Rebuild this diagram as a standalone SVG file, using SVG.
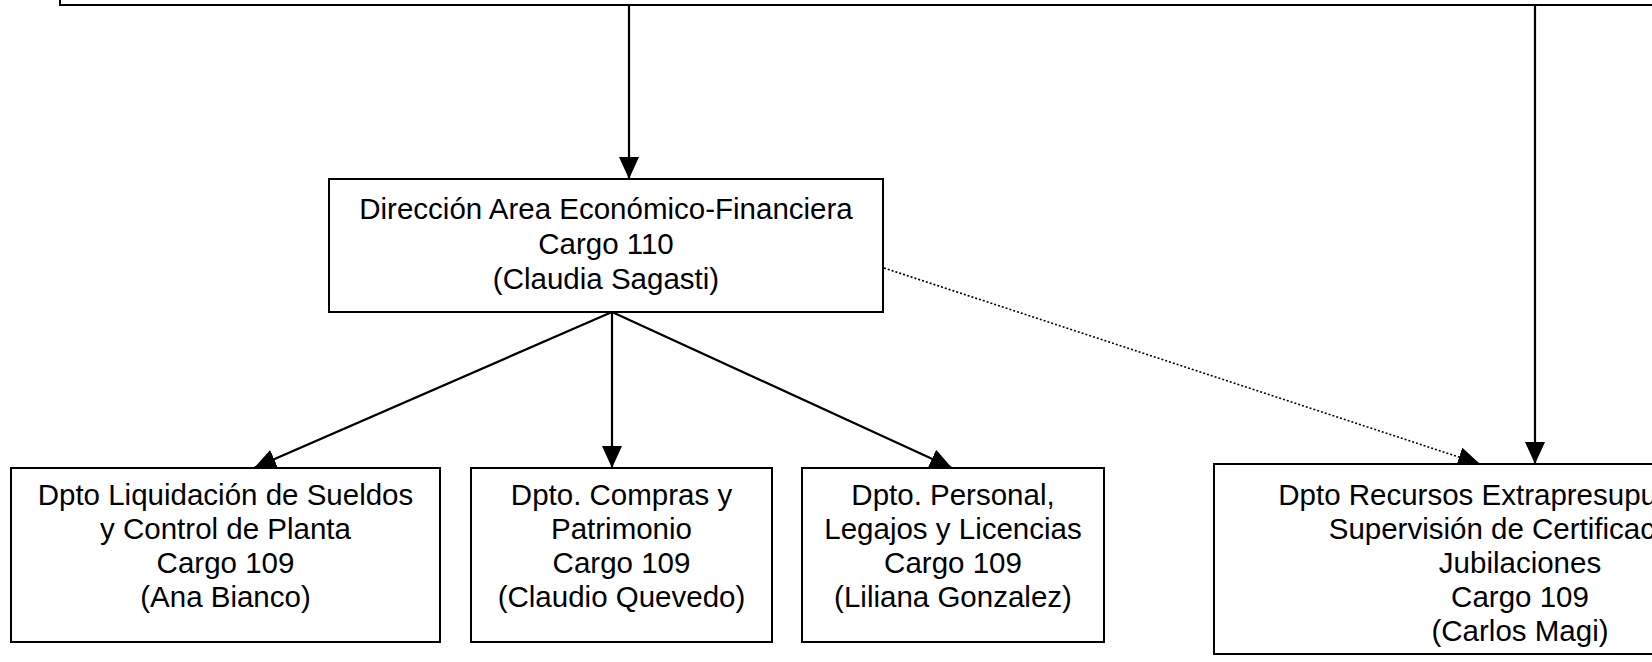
<svg xmlns="http://www.w3.org/2000/svg" width="1652" height="662" viewBox="0 0 1652 662">
<defs>
<style>
.box{fill:#fff;stroke:#000;stroke-width:2}
.t{font-family:"Liberation Sans",Arial,sans-serif;font-size:29.5px;fill:#000;text-anchor:middle}
.te{font-family:"Liberation Sans",Arial,sans-serif;font-size:29.5px;fill:#000;text-anchor:end}
.c{stroke:#000;stroke-width:2.2;fill:none}
.d{stroke:#000;stroke-width:1.6;fill:none;stroke-dasharray:2 2}
</style>
<marker id="ah" viewBox="0 0 22 20" refX="22" refY="10" markerWidth="22" markerHeight="20" markerUnits="userSpaceOnUse" orient="auto">
<path d="M0,0 L22,10 L0,20 z" fill="#000"/>
</marker>
</defs>
<rect width="1652" height="662" fill="#fff"/>
<g id="top">
<rect class="box" x="60" y="-40" width="1700" height="45"/>
</g>
<g id="connectors">
<line class="c" x1="629" y1="5" x2="629" y2="179" marker-end="url(#ah)"/>
<line class="c" x1="1535" y1="5" x2="1535" y2="464" marker-end="url(#ah)"/>
<line class="c" x1="612" y1="312" x2="254" y2="468" marker-end="url(#ah)"/>
<line class="c" x1="612" y1="312" x2="612" y2="468" marker-end="url(#ah)"/>
<line class="c" x1="612" y1="312" x2="952" y2="468" marker-end="url(#ah)"/>
<line class="d" x1="884" y1="268" x2="1480" y2="464" marker-end="url(#ah)"/>
</g>
<g id="n110">
<rect class="box" x="329" y="179" width="554" height="133"/>
<text class="t" x="606" y="219">Dirección Area Económico-Financiera</text>
<text class="t" x="606" y="254">Cargo 110</text>
<text class="t" x="606" y="289">(Claudia Sagasti)</text>
</g>
<g id="n109a">
<rect class="box" x="11" y="468" width="429" height="174"/>
<text class="t" x="225.5" y="505">Dpto Liquidación de Sueldos</text>
<text class="t" x="225.5" y="539">y Control de Planta</text>
<text class="t" x="225.5" y="573">Cargo 109</text>
<text class="t" x="225.5" y="607">(Ana Bianco)</text>
</g>
<g id="n109b">
<rect class="box" x="471" y="468" width="301" height="174"/>
<text class="t" x="621.5" y="505">Dpto. Compras y</text>
<text class="t" x="621.5" y="539">Patrimonio</text>
<text class="t" x="621.5" y="573">Cargo 109</text>
<text class="t" x="621.5" y="607">(Claudio Quevedo)</text>
</g>
<g id="n109c">
<rect class="box" x="802" y="468" width="302" height="174"/>
<text class="t" x="953" y="505">Dpto. Personal,</text>
<text class="t" x="953" y="539">Legajos y Licencias</text>
<text class="t" x="953" y="573">Cargo 109</text>
<text class="t" x="953" y="607">(Liliana Gonzalez)</text>
</g>
<g id="n109d">
<rect class="box" x="1214" y="464" width="640" height="190"/>
<text class="te" x="1657" y="505">Dpto Recursos Extrapresupu</text>
<text class="te" x="1655" y="539">Supervisión de Certificac</text>
<text class="t" x="1520" y="573">Jubilaciones</text>
<text class="t" x="1520" y="607">Cargo 109</text>
<text class="t" x="1520" y="641">(Carlos Magi)</text>
</g>
</svg>
